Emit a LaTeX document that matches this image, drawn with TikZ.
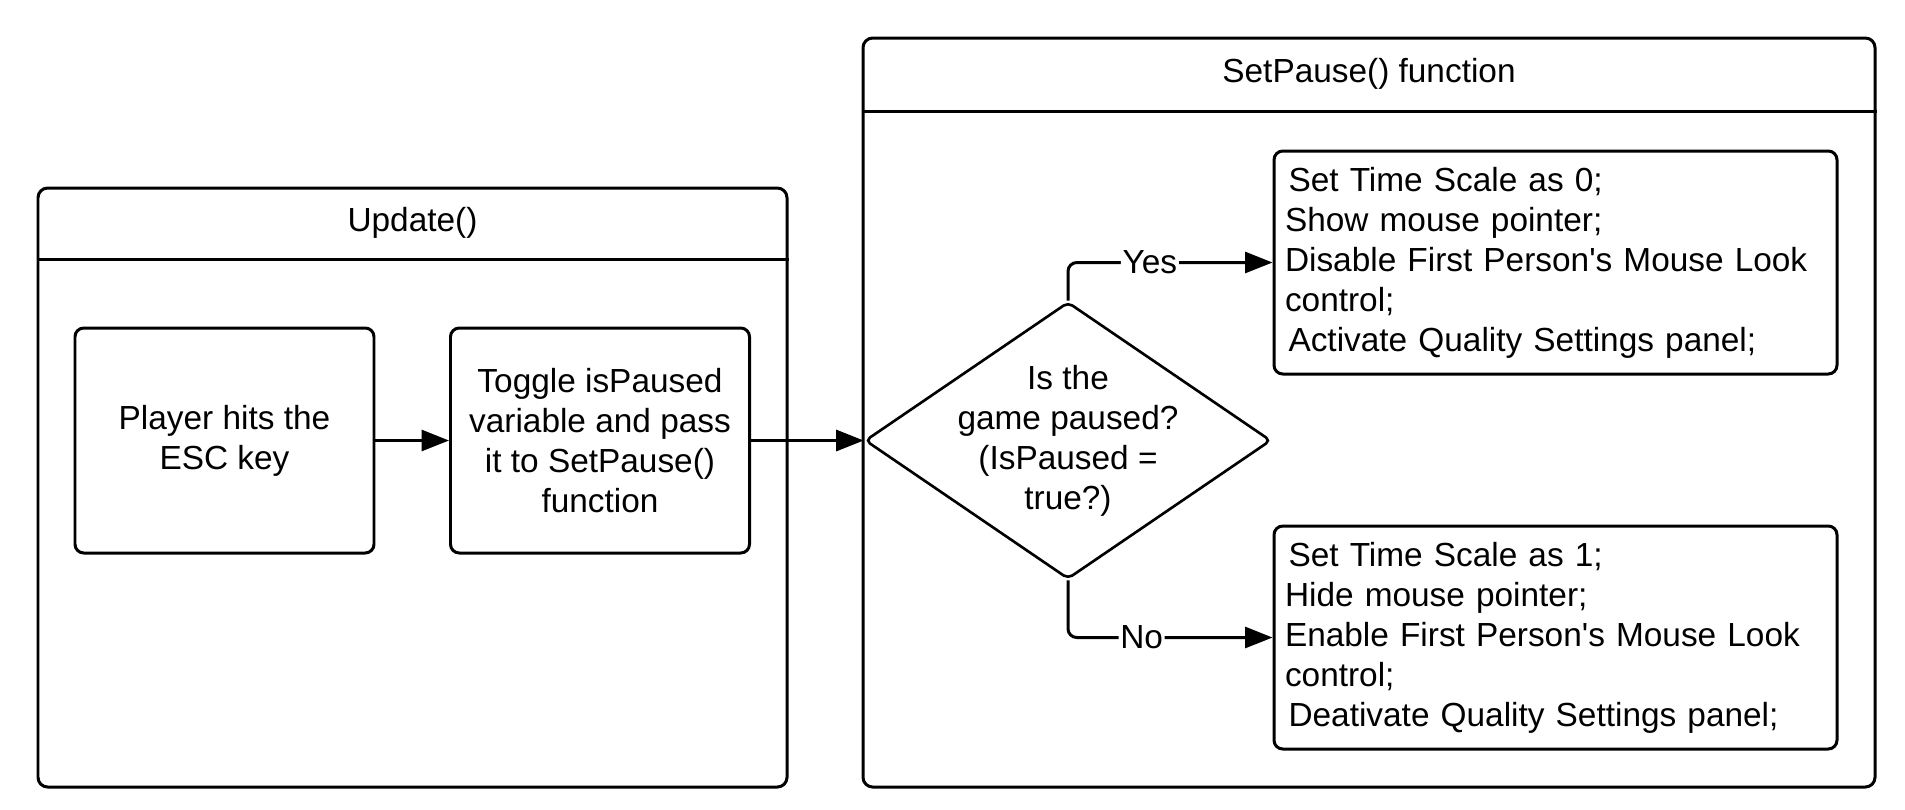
\documentclass[tikz,border=0pt]{standalone}
\usepackage{fontspec}
\setmainfont{Liberation Sans}
\usetikzlibrary{arrows.meta,shapes.geometric}

\begin{document}
\begin{tikzpicture}[>={Triangle[length=0.55cm,width=0.42cm]}, line width=1.7pt, font=\fontsize{19}{22.8}\selectfont]
  \tikzstyle{frame}=[draw, rounded corners=5.5pt]
  \tikzstyle{action}=[draw, rounded corners=5pt, minimum width=5.98cm, minimum height=4.5cm, align=center]
  \tikzstyle{note}=[draw, rounded corners=5pt, text width=10.82cm, inner xsep=0.22cm, minimum height=4.46cm, align=left]
  \tikzstyle{decision}=[draw, diamond, rounded corners=3pt, line width=1.5pt, minimum width=8.12cm, minimum height=5.54cm, inner sep=0pt]
  \tikzstyle{lbl}=[fill=white, inner sep=1pt]

  \useasboundingbox (0,0) rectangle (38.1,-16.18);

  % the two swimlanes
  \node[frame, minimum width=14.98cm, minimum height=11.98cm] (upd) at (8.25,-9.75) {};
  \node[frame, minimum width=20.24cm, minimum height=14.98cm] (sp) at (27.38,-8.25) {};
  \draw ([yshift=-1.46cm]upd.north west) -- ([yshift=-1.46cm]upd.north east);
  \draw ([yshift=-1.5cm]sp.north west) -- ([yshift=-1.5cm]sp.north east);
  \node (updtitle) at ([yshift=-0.73cm]upd.north) {Update()};
  \node (sptitle) at ([yshift=-0.75cm]sp.north) {SetPause() function};

  \node[action] (player) at (4.49,-8.81) {Player hits the\\ESC key};
  \node[action] (toggle) [right of=player, node distance=7.51cm] {Toggle isPaused\\variable and pass\\it to SetPause()\\function};
  \node[decision] (dia) [right of=toggle, node distance=9.36cm] {};
  \node[align=center] (diatext) at (dia.center) {Is the\\game paused?\\(IsPaused =\\true?)};
  \node[note] (yes) at (31.11,-5.25) {\hspace{2pt}Set Time Scale as 0;\\Show mouse pointer;\\Disable First Person\textquotesingle s Mouse Look\\control;\\\hspace{2pt}Activate Quality Settings panel;};
  \node[note] (no) [below of=yes, node distance=7.5cm] {\hspace{2pt}Set Time Scale as 1;\\Hide mouse pointer;\\Enable First Person\textquotesingle s Mouse Look\\control;\\\hspace{2pt}Deativate Quality Settings panel;};

  \draw[->] (player) -- (toggle);
  \draw[->] (toggle) -- (dia.west);
  \draw[->, rounded corners=5pt] (dia.north) |- node[lbl, pos=0.7] {Yes} (yes.west);
  \draw[->, rounded corners=5pt] (dia.south) |- node[lbl, pos=0.68] {No} (no.west);
\end{tikzpicture}
\end{document}
